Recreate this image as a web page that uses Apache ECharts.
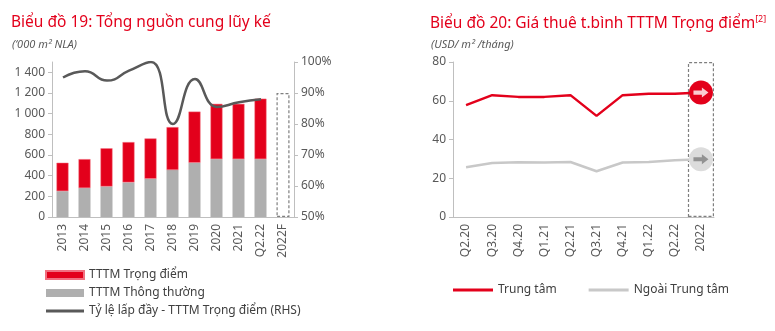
<!DOCTYPE html>
<html>
<head>
<meta charset="utf-8">
<script src="https://cdn.jsdelivr.net/npm/echarts@6/dist/echarts.min.js"></script>
<style>
  html, body { margin: 0; padding: 0; background: #fff; }
  #chart { width: 775px; height: 331px; }
</style>
</head>
<body>
<div id="chart"></div>
<script>
// Biểu đồ 19 – cumulative supply ('000 m² NLA)
const supplyYears = ['2013', '2014', '2015', '2016', '2017', '2018', '2019', '2020', '2021', 'Q2.22', '2022F'];
const supplyRegular = [250, 280, 295, 335, 370, 455, 525, 560, 560, 560, null];
const supplyKey = [275, 280, 370, 390, 390, 415, 495, 535, 535, 585, null];
const occupancyKey = [0.95, 0.97, 0.94, 0.972, 1.0, 0.80, 0.945, 0.855, 0.87, 0.88, null];
const supplyForecastBox = [null, null, null, null, null, null, null, null, null, null, 1200];
const supplyTicks = [0, 200, 400, 600, 800, 1000, 1200, 1400];
const occupancyTicks = [0.5, 0.6, 0.7, 0.8, 0.9, 1.0];

// Biểu đồ 20 – average rent (USD/m²/month)
const rentQuarters = ['Q2.20', 'Q3.20', 'Q4.20', 'Q1.21', 'Q2.21', 'Q3.21', 'Q4.21', 'Q1.22', 'Q2.22', '2022'];
const rentCentral = [57.7, 62.9, 62.0, 62.0, 62.9, 52.2, 62.9, 63.6, 63.6, 64.2];
const rentOuter = [25.7, 27.9, 28.3, 28.1, 28.4, 23.6, 28.1, 28.4, 29.3, 29.8];
const rentForecastBox = [null, null, null, null, null, null, null, null, null, 80];
const rentTicks = [0, 20, 40, 60, 80];

const RED = '#e3001b';
const BAR_GREY = '#afafaf';
const DARK = '#595959';
const LIGHT_LINE = '#c8c8c8';
const AXIS = '#bfbfbf';
const TXT = '#595959';
const FONT = 'Noto Sans';

const ARROW = 'path://M0,3.5 L9,3.5 L9,0 L16,6 L9,12 L9,8.5 L0,8.5 Z';
const LINE_ICON = 'path://M0,0 L40,0 L40,3 L0,3 Z';

// Mark only the last point of a series with a forecast circle
function withEndCircle(values, color, size) {
  return values.map((v, i) => i === values.length - 1
    ? { value: v, symbol: 'circle', symbolSize: size, itemStyle: { color: color } }
    : v);
}
function onlyLast(values) {
  return values.map((v, i) => i === values.length - 1 ? v : null);
}

const chart = echarts.init(document.getElementById('chart'), null, { renderer: 'canvas' });

chart.setOption({
  animation: false,
  textStyle: { fontFamily: FONT },
  title: [
    { text: 'Biểu đồ 19: Tổng nguồn cung lũy kế', left: 6, top: 10,
      textStyle: { color: RED, fontSize: 15.5, fontWeight: 'normal', fontFamily: FONT } },
    { text: '(\u2018000 m\u00b2 NLA)', left: 7, top: 34,
      textStyle: { color: TXT, fontSize: 11, fontStyle: 'italic', fontWeight: 'normal', fontFamily: FONT } },
    { text: 'Biểu đồ 20: Giá thuê t.bình TTTM Trọng điểm{sup|[2]}', left: 425, top: 10,
      textStyle: { color: RED, fontSize: 15.5, fontWeight: 'normal', fontFamily: FONT,
        rich: { sup: { color: RED, fontSize: 9, verticalAlign: 'top', padding: [0, 0, 8, 0], fontFamily: FONT } } } },
    { text: '(USD/ m\u00b2 /tháng)', left: 426, top: 34,
      textStyle: { color: TXT, fontSize: 11, fontStyle: 'italic', fontWeight: 'normal', fontFamily: FONT } }
  ],
  legend: [
    {
      left: 45, top: 269, padding: 0, orient: 'vertical', itemWidth: 38, itemHeight: 8, itemGap: 6,
      symbolKeepAspect: true,
      textStyle: { color: '#404040', fontSize: 12, fontFamily: FONT },
      data: [
        { name: 'TTTM Trọng điểm', icon: 'rect' },
        { name: 'TTTM Thông thường', icon: 'rect' },
        { name: 'Tỷ lệ lấp đầy - TTTM Trọng điểm (RHS)', icon: LINE_ICON }
      ]
    },
    {
      left: 453, top: 284, padding: 0, orient: 'horizontal', itemWidth: 40, itemHeight: 3, itemGap: 32,
      textStyle: { color: '#404040', fontSize: 12, fontFamily: FONT },
      data: [
        { name: 'Trung tâm', icon: 'rect' },
        { name: 'Ngoài Trung tâm', icon: 'rect' }
      ]
    }
  ],
  grid: [
    { left: 52, top: 62, width: 242, height: 155 },
    { left: 453, top: 62, width: 261, height: 155 }
  ],
  xAxis: [
    {
      type: 'category', gridIndex: 0, data: supplyYears,
      axisLine: { lineStyle: { color: AXIS } },
      axisTick: { lineStyle: { color: AXIS }, length: 5 },
      axisLabel: { rotate: 90, color: TXT, fontSize: 12, margin: 7, fontFamily: FONT }
    },
    {
      type: 'category', gridIndex: 1, data: rentQuarters,
      axisLine: { lineStyle: { color: AXIS } },
      axisTick: { lineStyle: { color: AXIS }, length: 5 },
      axisLabel: { rotate: 90, color: TXT, fontSize: 12, margin: 7, fontFamily: FONT }
    }
  ],
  yAxis: [
    {
      type: 'value', gridIndex: 0, min: 0, max: 1500, interval: 200,
      axisLine: { show: true, lineStyle: { color: AXIS } },
      axisTick: { show: true, lineStyle: { color: AXIS }, length: 4 },
      splitLine: { show: false },
      axisLabel: {
        color: TXT, fontSize: 12, margin: 7, fontFamily: FONT, showMaxLabel: false,
        formatter: v => supplyTicks.includes(v) ? String(v).replace(/\B(?=(\d{3})+(?!\d))/g, ' ') : ''
      }
    },
    {
      type: 'value', gridIndex: 0, position: 'right', min: 0.5, max: 1.0, interval: 0.1,
      axisLine: { show: true, lineStyle: { color: AXIS } },
      axisTick: { show: true, lineStyle: { color: AXIS }, length: 4 },
      splitLine: { show: false },
      axisLabel: {
        color: TXT, fontSize: 12, margin: 7, fontFamily: FONT,
        formatter: v => occupancyTicks.some(t => Math.abs(t - v) < 1e-6) ? Math.round(v * 100) + '%' : ''
      }
    },
    {
      type: 'value', gridIndex: 1, min: 0, max: 80, interval: 20,
      axisLine: { show: true, lineStyle: { color: AXIS } },
      axisTick: { show: true, lineStyle: { color: AXIS }, length: 4 },
      splitLine: { show: false },
      axisLabel: {
        color: TXT, fontSize: 12, margin: 7, fontFamily: FONT,
        formatter: v => rentTicks.includes(v) ? String(v) : ''
      }
    }
  ],
  series: [
    {
      name: 'TTTM Thông thường', type: 'bar', xAxisIndex: 0, yAxisIndex: 0, stack: 'supply',
      data: supplyRegular, barWidth: 12, barGap: '-100%',
      itemStyle: { color: BAR_GREY }
    },
    {
      name: 'TTTM Trọng điểm', type: 'bar', xAxisIndex: 0, yAxisIndex: 0, stack: 'supply',
      data: supplyKey, barWidth: 12,
      itemStyle: { color: RED, borderColor: '#f07080', borderWidth: 0.5 }
    },
    {
      name: 'Dự báo 2022F', type: 'bar', xAxisIndex: 0, yAxisIndex: 0,
      data: supplyForecastBox, barWidth: 13, z: 1,
      itemStyle: { color: 'rgba(0,0,0,0)', borderColor: '#7f7f7f', borderWidth: 1.2, borderType: [3, 2] }
    },
    {
      name: 'Tỷ lệ lấp đầy - TTTM Trọng điểm (RHS)', type: 'line', xAxisIndex: 0, yAxisIndex: 1,
      data: occupancyKey, smooth: 0.5, symbol: 'none', z: 5,
      lineStyle: { color: DARK, width: 2.5 }, itemStyle: { color: DARK }
    },
    {
      name: 'Dự báo 2022', type: 'bar', xAxisIndex: 1, yAxisIndex: 2,
      data: rentForecastBox, barWidth: '100%', z: 1,
      itemStyle: { color: 'rgba(0,0,0,0)', borderColor: '#7f7f7f', borderWidth: 1.2, borderType: [3, 2] }
    },
    {
      name: 'Trung tâm', type: 'line', xAxisIndex: 1, yAxisIndex: 2,
      data: withEndCircle(rentCentral, RED, 24), symbol: 'none', showSymbol: true, z: 4,
      lineStyle: { color: RED, width: 2.5 }, itemStyle: { color: RED }
    },
    {
      name: 'Ngoài Trung tâm', type: 'line', xAxisIndex: 1, yAxisIndex: 2,
      data: withEndCircle(rentOuter, '#dcdcdc', 24), symbol: 'none', showSymbol: true, z: 3,
      lineStyle: { color: LIGHT_LINE, width: 2.5 }, itemStyle: { color: LIGHT_LINE }
    },
    {
      name: 'Trung tâm 2022', type: 'scatter', xAxisIndex: 1, yAxisIndex: 2,
      data: onlyLast(rentCentral), symbol: ARROW, symbolSize: [15, 10], z: 6,
      itemStyle: { color: '#ffffff' }
    },
    {
      name: 'Ngoài Trung tâm 2022', type: 'scatter', xAxisIndex: 1, yAxisIndex: 2,
      data: onlyLast(rentOuter), symbol: ARROW, symbolSize: [15, 10], z: 6,
      itemStyle: { color: '#7f7f7f' }
    }
  ]
});
</script>
</body>
</html>
